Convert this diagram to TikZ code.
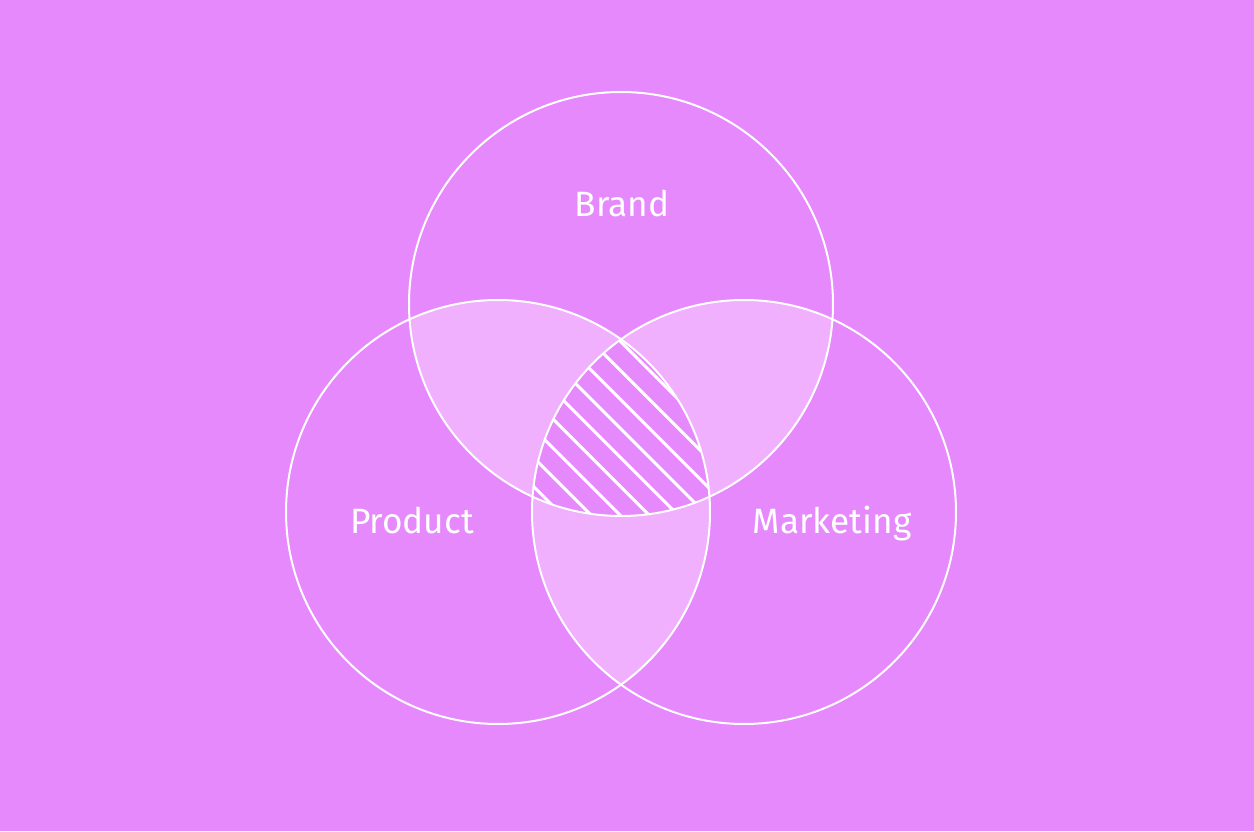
\documentclass[tikz,border=0pt]{standalone}
\usepackage{fontspec}
\setmainfont{Fira Sans}
\usepackage{tikz}
\definecolor{bgpink}{HTML}{E689FC}
\definecolor{lenspink}{HTML}{F0B0FD}

\begin{document}
\begin{tikzpicture}[x=0.5pt,y=0.5pt,
  ring/.style={draw=white,line width=1pt},
  hatchline/.style={white,line width=1.5pt},
  lbl/.style={text=white,font=\fontsize{17.6}{21}\selectfont,anchor=base}
]
\fill[bgpink] (0,0) rectangle (1254,831);
\coordinate (br) at (621,527);
\coordinate (pr) at (498,319);
\coordinate (mk) at (744,319);
\def\rad{212}
% two-way overlaps
\begin{scope}
\clip (br) circle[radius=\rad];
\fill[lenspink] (pr) circle[radius=\rad];
\fill[lenspink] (mk) circle[radius=\rad];
\end{scope}
\begin{scope}
\clip (pr) circle[radius=\rad];
\fill[lenspink] (mk) circle[radius=\rad];
\end{scope}
% three-way overlap, hatched
\begin{scope}
\clip (br) circle[radius=\rad];
\clip (pr) circle[radius=\rad];
\clip (mk) circle[radius=\rad];
\fill[bgpink] (400,100) rectangle (850,700);
\foreach \k in {-1,...,10}
  \draw[hatchline] ({450},{660-29*\k}) -- ({800},{310-29*\k});
\end{scope}
% outlines
\draw[ring] (br) circle[radius=\rad];
\draw[ring] (pr) circle[radius=\rad];
\draw[ring] (mk) circle[radius=\rad];
\node[lbl] (brand) at (622,614) {Brand};
\node[lbl] (product) at (412,297) {Product};
\node[lbl] (marketing) at (832,297) {Marketing};
\end{tikzpicture}
\end{document}
